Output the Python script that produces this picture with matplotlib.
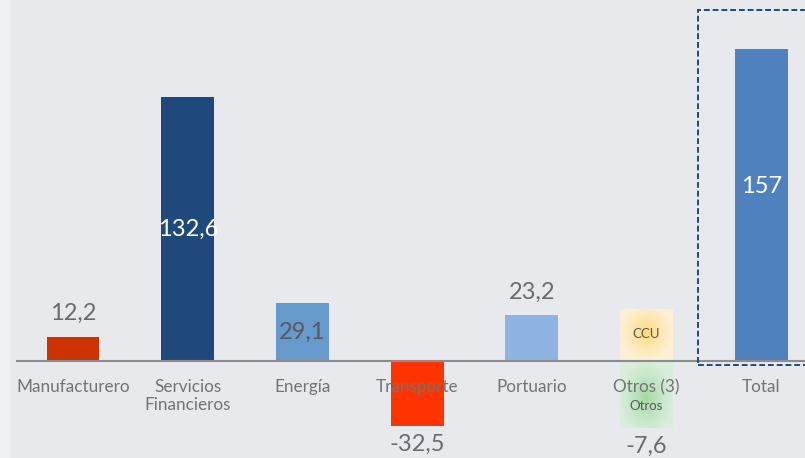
import numpy as np
import matplotlib
matplotlib.use("Agg")
from matplotlib import pyplot as plt
from matplotlib.patches import Rectangle

plt.rcParams['font.family'] = ['Lato', 'DejaVu Sans']

categories = ['Manufacturero', 'Servicios\nFinancieros', 'Energía', 'Transporte',
              'Portuario', 'Otros (3)', 'Total']
values = [12.2, 132.6, 29.1, -32.5, 23.2, -7.6, 157]
labels = ['12,2', '132,6', '29,1', '-32,5', '23,2', '-7,6', '157']
colors = ['#CC3300', '#1F497D', '#6699CC', '#FF3300', '#8EB4E3', None, '#4F81BD']
# Otros (3) split into two stacked pieces
otros_parts = [25.9, -33.5]
otros_names = ['CCU', 'Otros']

bg = '#E8E9ED'
text_grey = '#737373'
width = 0.46

fig = plt.figure(figsize=(8.05, 4.58), dpi=100, facecolor='#F0F1F4')
ax = fig.add_axes([10 / 805, 0, 795 / 805, 1])
ax.set_facecolor(bg)

x = np.arange(len(categories))
for i, (v, c) in enumerate(zip(values, colors)):
    if c is not None:
        ax.bar(x[i], v, width=width, color=c, zorder=1)


def gradient_bar(xc, y0, y1, inner, outer, cy=0.5):
    h, w = 120, 60
    yy, xx = np.mgrid[0:1:h * 1j, 0:1:w * 1j]
    r = np.sqrt(((xx - 0.5) / 0.5) ** 2 + ((yy - cy) / 0.55) ** 2)
    t = np.clip(r, 0, 1)[..., None] ** 0.8
    img = np.array(inner)[None, None, :] * (1 - t) + np.array(outer)[None, None, :] * t
    ax.imshow(img, extent=[xc - width / 2, xc + width / 2, y0, y1], origin='upper',
              aspect='auto', zorder=0.5, interpolation='bilinear')


i_otros = categories.index('Otros (3)')
ccu, otr = otros_parts
gradient_bar(x[i_otros], 0, ccu, (1.0, 0.85, 0.45), (0.99, 0.94, 0.84), cy=0.45)
gradient_bar(x[i_otros], otr, 0, (0.62, 0.85, 0.62), (0.85, 0.93, 0.86), cy=0.55)
ax.text(x[i_otros], ccu * 0.52, otros_names[0], ha='center', va='center',
        fontsize=9.5, color='#595959', zorder=3)
ax.text(x[i_otros], otr * 0.68, otros_names[1], ha='center', va='center',
        fontsize=9.5, color='#595959', zorder=3)

# value labels
for i, (v, lab) in enumerate(zip(values, labels)):
    if lab in ('132,6', '29,1'):
        col = 'white' if lab == '132,6' else '#595959'
        ax.text(x[i], v * 0.5, lab, ha='center', va='center', fontsize=17, color=col, zorder=3)
    elif lab == '157':
        ax.text(x[i], v * 0.56, lab, ha='center', va='center', fontsize=17, color='white', zorder=3)
    elif v >= 0:
        ax.annotate(lab, (x[i], v), xytext=(0, 9), textcoords='offset points',
                    ha='center', va='bottom', fontsize=17, color='#6B6B6B')
    else:
        low = otros_parts[1] if i == i_otros else v
        ax.annotate(lab, (x[i], low), xytext=(0, -6), textcoords='offset points',
                    ha='center', va='top', fontsize=17, color='#6B6B6B')

# dashed frame around total
ax.add_patch(Rectangle((x[-1] - 0.551, -2), 1.2, 178.4, fill=False, edgecolor='#1F497D',
                       linestyle=(0, (3, 1.5)), linewidth=1.4, zorder=4, clip_on=False))

ax.set_xlim(-0.55, 6.382)
ax.set_ylim(-48.7, 181.4)
for s in ['top', 'right', 'left']:
    ax.spines[s].set_visible(False)
ax.spines['bottom'].set_position(('data', 0))
ax.spines['bottom'].set_bounds(-0.488, 6.4)
ax.spines['bottom'].set_color('#8C8C8C')
ax.spines['bottom'].set_linewidth(1.5)
ax.spines['bottom'].set_zorder(2)
ax.set_yticks([])
ax.set_xticks(x)
ax.set_xticklabels(categories, fontsize=12.3, color=text_grey, linespacing=1.15)
ax.tick_params(axis='x', length=0, pad=13)
for t in ax.get_xticklabels():
    t.set_zorder(5)

fig.savefig('out.png', dpi=100, facecolor=fig.get_facecolor())
